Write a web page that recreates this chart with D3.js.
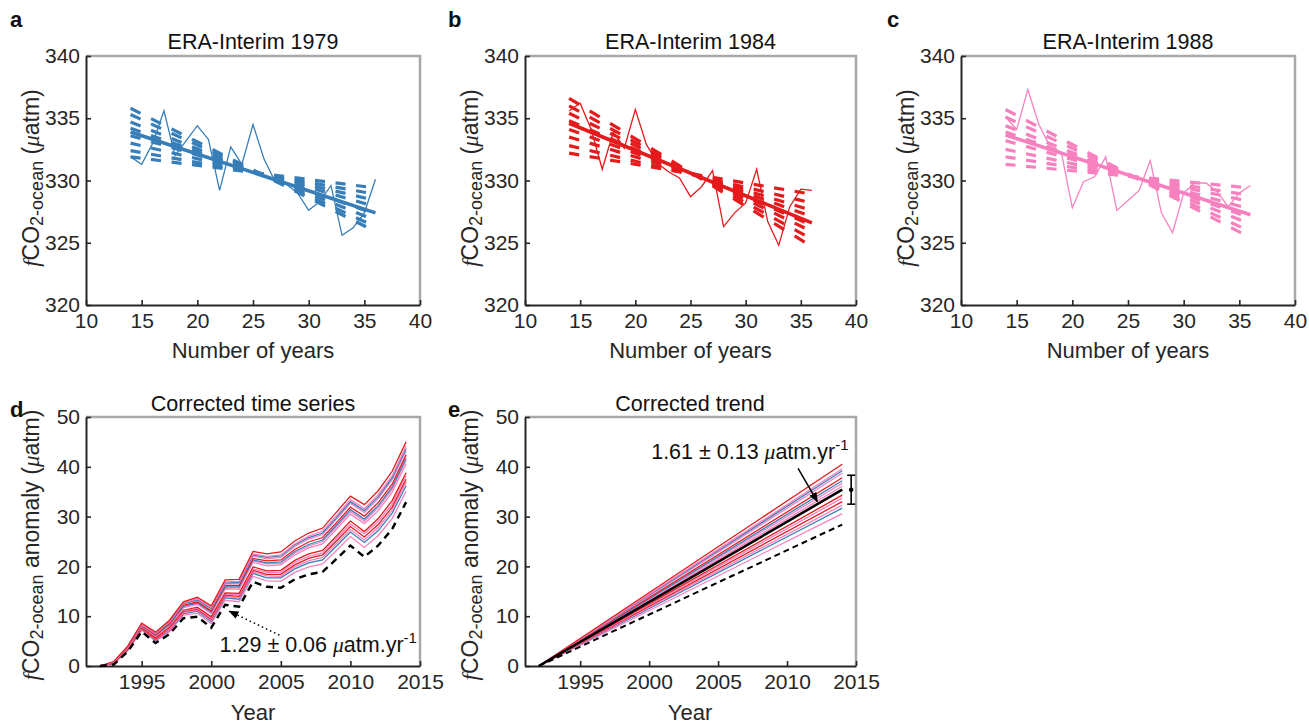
<!DOCTYPE html>
<html><head><meta charset="utf-8">
<script src="https://cdn.jsdelivr.net/npm/d3@7"></script>
<style>
body{margin:0;background:#fff;}
svg{font-family:"Liberation Sans",Arial,Helvetica,sans-serif;}
</style></head><body>
<svg id="chart" width="1309" height="725"></svg>
<script>
// ---------------- DATA ----------------
const BLUE = "#377eb8", RED = "#e41a1c", PINK = "#f781bf";

const numberOfYears = [14,15,16,17,18,19,20,21,22,23,24,25,26,27,28,29,30,31,32,33,34,35,36];
const topXTicks = [10,15,20,25,30,35,40];
const topYTicks = [320,325,330,335,340];

const era1979Series = [331.9,331.3,333.0,335.6,332.0,333.2,334.4,333.3,329.2,332.7,331.3,334.5,331.7,329.9,329.7,329.0,327.6,328.3,329.6,325.6,326.2,327.4,330.1];
const era1984Series = [335.6,336.2,334.1,330.9,333.9,332.6,335.7,332.9,331.4,330.7,330.2,328.7,329.5,330.8,326.3,327.4,328.2,330.9,326.7,324.8,327.9,329.3,329.2];
const era1988Series = [335.1,334.1,337.3,334.5,332.7,332.3,327.8,329.9,330.3,331.9,327.6,328.4,329.2,331.6,327.4,325.8,329.0,329.8,329.8,329.1,327.9,329.0,329.6];

// regression line values at x = 14 and x = 36
const trendEnds = [14, 36];
const era1979Trend = [333.9, 327.4];
const era1984Trend = [334.6, 326.6];
const era1988Trend = [333.65, 327.25];

// dashed fan lines: values at x = 14 and x = 36
const era1979Fan = [[331.9,329.4],[332.4,328.9],[333.0,328.4],[333.6,327.9],[334.2,327.3],[334.7,326.8],[335.3,326.3],[335.8,325.9]];
const era1984Fan = [[332.2,328.9],[332.8,328.2],[333.5,327.6],[334.1,327.1],[334.8,326.4],[335.4,325.9],[336.0,325.3],[336.6,324.7]];
const era1988Fan = [[331.3,329.4],[331.9,328.8],[332.5,328.3],[333.2,327.7],[333.9,327.0],[334.4,326.5],[335.1,325.9],[335.7,325.4]];

// panel d
const years = [1992,1993,1994,1995,1996,1997,1998,1999,2000,2001,2002,2003,2004,2005,2006,2007,2008,2009,2010,2011,2012,2013,2014];
const bottomXTicks = [1995,2000,2005,2010,2015];
const bottomYTicks = [0,10,20,30,40,50];
const rawSeries = [0,0.3,2.9,6.9,4.6,6.4,9.6,9.9,7.7,12.3,11.9,16.9,15.9,15.7,17.4,18.4,18.9,21.5,24.2,21.9,24.2,27.5,32.9];
const corrected01 = [0,0.9,4.0,8.6,6.8,9.2,12.9,13.8,12.1,17.3,17.4,23.0,22.5,22.9,25.1,26.7,27.7,30.9,34.1,32.4,35.2,39.1,45.0];
const corrected02 = [0,0.8,3.9,8.4,6.6,9.0,12.7,13.5,11.8,16.9,17.0,22.5,22.0,22.3,24.5,26.1,27.1,30.2,33.4,31.6,34.4,38.2,44.1];
const corrected03 = [0,0.8,3.9,8.4,6.6,8.9,12.5,13.3,11.6,16.7,16.8,22.3,21.8,22.1,24.3,25.8,26.7,29.8,33.0,31.2,34.0,37.8,43.7];
const corrected04 = [0,0.8,3.8,8.3,6.5,8.8,12.4,13.2,11.5,16.5,16.6,22.1,21.5,21.8,24.0,25.5,26.4,29.5,32.7,30.8,33.6,37.4,43.2];
const corrected05 = [0,0.7,3.8,8.2,6.3,8.6,12.2,12.9,11.1,16.2,16.2,21.6,21.1,21.3,23.4,24.9,25.8,28.8,31.9,30.1,32.8,36.5,42.4];
const corrected06 = [0,0.7,3.7,8.1,6.2,8.4,12.0,12.7,10.9,15.9,15.9,21.3,20.7,20.9,23.0,24.4,25.3,28.3,31.4,29.5,32.2,35.9,41.7];
const corrected07 = [0,0.7,3.7,8.0,6.1,8.3,11.9,12.6,10.7,15.7,15.7,21.1,20.5,20.6,22.7,24.1,25.0,28.0,31.0,29.1,31.8,35.5,41.3];
const corrected08 = [0,0.7,3.6,8.0,6.0,8.2,11.7,12.4,10.5,15.5,15.4,20.8,20.1,20.3,22.3,23.7,24.5,27.5,30.5,28.6,31.2,34.9,40.6];
const corrected09 = [0,0.6,3.4,7.7,5.7,7.8,11.2,11.8,9.9,14.7,14.6,19.9,19.1,19.2,21.2,22.5,23.2,26.1,29.1,27.0,29.6,33.2,38.8];
const corrected10 = [0,0.5,3.4,7.6,5.6,7.6,11.0,11.6,9.6,14.5,14.3,19.5,18.8,18.8,20.8,22.0,22.7,25.6,28.5,26.5,29.0,32.5,38.2];
const corrected11 = [0,0.5,3.3,7.5,5.4,7.5,10.9,11.4,9.4,14.2,14.0,19.2,18.4,18.4,20.3,21.6,22.3,25.1,28.0,25.9,28.4,31.9,37.5];
const corrected12 = [0,0.5,3.3,7.4,5.3,7.3,10.7,11.2,9.1,13.9,13.7,18.9,18.1,18.0,19.9,21.1,21.8,24.6,27.4,25.3,27.8,31.3,36.9];
const corrected13 = [0,0.5,3.2,7.4,5.2,7.2,10.5,11.0,8.9,13.7,13.4,18.6,17.7,17.7,19.5,20.7,21.3,24.1,26.9,24.8,27.2,30.7,36.2];
const corrected14 = [0,0.4,3.1,7.2,5.0,6.9,10.2,10.6,8.5,13.2,12.9,18.0,17.1,17.0,18.8,19.9,20.5,23.2,26.0,23.8,26.2,29.6,35.1];
const memberColors = [RED,PINK,BLUE,PINK,RED,BLUE,PINK,PINK,RED,PINK,RED,PINK,BLUE,PINK];

// panel e : straight trend lines from (1992, 0) to (2014, value)
const trendYears = [1992, 2014];
const memberTrendEnd = [40.5,39.6,39.2,38.7,37.8,37.2,36.7,36.1,34.3,33.7,33.0,32.3,31.7,30.6];
const meanTrendEnd = 35.4;
const rawTrendEnd = 28.4;
const errorBar = {year: 2014.65, center: 35.4, low: 32.5, high: 38.3};

// ---------------- DRAW ----------------
const svg = d3.select("#chart");
const FONT = '"Liberation Sans",Arial,Helvetica,sans-serif';
const SERIF = '"Liberation Serif","Times New Roman",serif';
const TXT = "#262626";

function frame(g, xs, ys) {
  const [x0, x1] = xs.range(), [y0, y1] = ys.range();
  g.append("path").attr("d", `M${x0},${y1}H${x1}V${y0}`)
    .attr("fill", "none").attr("stroke", "#a8a8a8").attr("stroke-width", 2.5);
}
function axes(g, xs, ys, xticks, yticks) {
  const [x0] = xs.range(), [y0] = ys.range();
  const ax = g.append("g").attr("transform", `translate(0,${y0})`)
    .call(d3.axisBottom(xs).tickValues(xticks).tickFormat(d3.format("d")).tickSizeInner(-5).tickSizeOuter(0).tickPadding(8));
  const ay = g.append("g").attr("transform", `translate(${x0},0)`)
    .call(d3.axisLeft(ys).tickValues(yticks).tickFormat(d3.format("d")).tickSizeInner(-5).tickSizeOuter(0).tickPadding(6));
  [ax, ay].forEach(a => {
    a.select(".domain").attr("stroke", TXT).attr("stroke-width", 2);
    a.selectAll(".tick line").attr("stroke", TXT).attr("stroke-width", 1.6);
    a.selectAll(".tick text").attr("fill", TXT).attr("font-size", 21).attr("font-family", FONT);
  });
}
function ylabel(g, x, y, anomaly) {
  const t = g.append("text").attr("transform", `translate(${x},${y}) rotate(-90)`)
    .attr("text-anchor", "middle").attr("font-size", 23).attr("fill", TXT);
  t.append("tspan").attr("font-family", SERIF).attr("font-style", "italic").text("f");
  t.append("tspan").text("CO");
  t.append("tspan").attr("font-size", 18).attr("dy", 4).text("2-ocean");
  t.append("tspan").attr("dy", -4).text(anomaly ? " anomaly (" : " (");
  t.append("tspan").attr("font-family", SERIF).attr("font-style", "italic").text("\u03bc");
  t.append("tspan").text("atm)");
}
function letter(x, y, s) {
  svg.append("text").attr("x", x).attr("y", y).attr("font-size", 22).attr("font-weight", "bold").attr("fill", "#111").text(s);
}
function title(x, y, s) {
  svg.append("text").attr("x", x).attr("y", y).attr("text-anchor", "middle").attr("font-size", 21.5).attr("fill", "#111").text(s);
}
function xlabel(x, y, s) {
  svg.append("text").attr("x", x).attr("y", y).attr("text-anchor", "middle").attr("font-size", 22).attr("fill", TXT).text(s);
}
function rateLabel(g, x, y, s) {
  const t = g.append("text").attr("x", x).attr("y", y).attr("font-size", 21.5).attr("fill", "#111");
  t.append("tspan").text(s + " ");
  t.append("tspan").attr("font-family", SERIF).attr("font-style", "italic").text("\u03bc");
  t.append("tspan").text("atm.yr");
  t.append("tspan").attr("font-size", 15).attr("dy", -9).text("-1");
}

// top row panels
const topPanels = [
  {L: "a", name: "ERA-Interim 1979", color: BLUE, series: era1979Series, trend: era1979Trend, fan: era1979Fan, x0: 86, x1: 420, lx: 10},
  {L: "b", name: "ERA-Interim 1984", color: RED, series: era1984Series, trend: era1984Trend, fan: era1984Fan, x0: 525, x1: 856, lx: 448},
  {L: "c", name: "ERA-Interim 1988", color: PINK, series: era1988Series, trend: era1988Trend, fan: era1988Fan, x0: 961, x1: 1295, lx: 887}
];
topPanels.forEach(p => {
  const xs = d3.scaleLinear().domain([10, 40]).range([p.x0, p.x1]);
  const ys = d3.scaleLinear().domain([320, 340]).range([305, 56]);
  const g = svg.append("g");
  frame(g, xs, ys);
  axes(g, xs, ys, topXTicks, topYTicks);
  const line = d3.line().x(d => xs(d[0])).y(d => ys(d[1]));
  // dashed fan
  p.fan.forEach(f => {
    const pts = [[trendEnds[0], f[0]], [trendEnds[1], f[1]]];
    const dx = xs(trendEnds[1]) - xs(trendEnds[0]);
    const dy = ys(f[1]) - ys(f[0]);
    const k = Math.hypot(dx, dy) / dx;
    g.append("path").attr("d", line(pts)).attr("fill", "none").attr("stroke", p.color)
      .attr("stroke-width", 3.2).attr("stroke-dasharray", `${10 * k},${10.5 * k}`);
  });
  // regression
  g.append("path").attr("d", line([[trendEnds[0], p.trend[0]], [trendEnds[1], p.trend[1]]]))
    .attr("fill", "none").attr("stroke", p.color).attr("stroke-width", 3.6);
  // thin series
  g.append("path").attr("d", line(numberOfYears.map((n, i) => [n, p.series[i]])))
    .attr("fill", "none").attr("stroke", p.color).attr("stroke-width", 1.3).attr("stroke-linejoin", "miter");
  title((p.x0 + p.x1) / 2, 49, p.name);
  xlabel((p.x0 + p.x1) / 2, 358, "Number of years");
  ylabel(svg, p.x0 - 47, 178, false);
  letter(p.lx, 27, p.L);
});

// markers
const defs = svg.append("defs");
defs.append("marker").attr("id", "ah").attr("viewBox", "0 0 10 10").attr("refX", 9).attr("refY", 5)
  .attr("markerWidth", 10).attr("markerHeight", 10).attr("markerUnits", "userSpaceOnUse").attr("orient", "auto")
  .append("path").attr("d", "M0,1 L10,5 L0,9 Z").attr("fill", "#000");

// panel d
{
  const xs = d3.scaleLinear().domain([1991, 2015]).range([86, 420]);
  const ys = d3.scaleLinear().domain([0, 50]).range([666, 417]);
  const g = svg.append("g");
  frame(g, xs, ys);
  axes(g, xs, ys, bottomXTicks, bottomYTicks);
  const line = d3.line().x(d => xs(d[0])).y(d => ys(d[1]));
  const members = [corrected01, corrected02, corrected03, corrected04, corrected05, corrected06, corrected07,
                   corrected08, corrected09, corrected10, corrected11, corrected12, corrected13, corrected14];
  members.slice().reverse().forEach((m, ri) => {
    const i = members.length - 1 - ri;
    g.append("path").attr("d", line(years.map((y, j) => [y, m[j]]))).attr("fill", "none")
      .attr("stroke", memberColors[i]).attr("stroke-width", 1.3);
  });
  g.append("path").attr("d", line(years.map((y, j) => [y, rawSeries[j]]))).attr("fill", "none")
    .attr("stroke", "#000").attr("stroke-width", 2.4).attr("stroke-dasharray", "7,5");
  // annotation
  g.append("line").attr("x1", xs(2004.9)).attr("y1", ys(6.2)).attr("x2", xs(2001.3)).attr("y2", ys(11.0))
    .attr("stroke", "#000").attr("stroke-width", 1.5).attr("stroke-dasharray", "1.5,3").attr("marker-end", "url(#ah)");
  rateLabel(g, xs(2000.6), ys(2.8), "1.29 \u00b1 0.06");
  title(253, 411, "Corrected time series");
  xlabel(253, 720, "Year");
  ylabel(svg, 39, 545, true);
  letter(10, 417, "d");
}

// panel e
{
  const xs = d3.scaleLinear().domain([1991, 2015]).range([525, 856]);
  const ys = d3.scaleLinear().domain([0, 50]).range([666, 417]);
  const g = svg.append("g");
  frame(g, xs, ys);
  axes(g, xs, ys, bottomXTicks, bottomYTicks);
  const line = d3.line().x(d => xs(d[0])).y(d => ys(d[1]));
  memberTrendEnd.slice().reverse().forEach((v, ri) => {
    const i = memberTrendEnd.length - 1 - ri;
    g.append("path").attr("d", line([[trendYears[0], 0], [trendYears[1], v]])).attr("fill", "none")
      .attr("stroke", memberColors[i]).attr("stroke-width", 1.3);
  });
  g.append("path").attr("d", line([[trendYears[0], 0], [trendYears[1], rawTrendEnd]])).attr("fill", "none")
    .attr("stroke", "#000").attr("stroke-width", 2).attr("stroke-dasharray", "6,4");
  g.append("path").attr("d", line([[trendYears[0], 0], [trendYears[1], meanTrendEnd]])).attr("fill", "none")
    .attr("stroke", "#000").attr("stroke-width", 2.6);
  // error bar
  const ex = xs(errorBar.year);
  g.append("line").attr("x1", ex).attr("x2", ex).attr("y1", ys(errorBar.low)).attr("y2", ys(errorBar.high)).attr("stroke", "#000").attr("stroke-width", 1.6);
  [errorBar.low, errorBar.high].forEach(v => g.append("line").attr("x1", ex - 4).attr("x2", ex + 4).attr("y1", ys(v)).attr("y2", ys(v)).attr("stroke", "#000").attr("stroke-width", 1.6));
  g.append("circle").attr("cx", ex).attr("cy", ys(errorBar.center)).attr("r", 2.3).attr("fill", "#000");
  // annotation
  g.append("line").attr("x1", xs(2010.8)).attr("y1", ys(39.7)).attr("x2", xs(2012.2)).attr("y2", ys(33.0))
    .attr("stroke", "#000").attr("stroke-width", 1.5).attr("marker-end", "url(#ah)");
  rateLabel(g, xs(2000.15), ys(41.5), "1.61 \u00b1 0.13");
  title(690, 411, "Corrected trend");
  xlabel(690, 720, "Year");
  ylabel(svg, 478, 545, true);
  letter(448, 417, "e");
}
</script></body></html>
